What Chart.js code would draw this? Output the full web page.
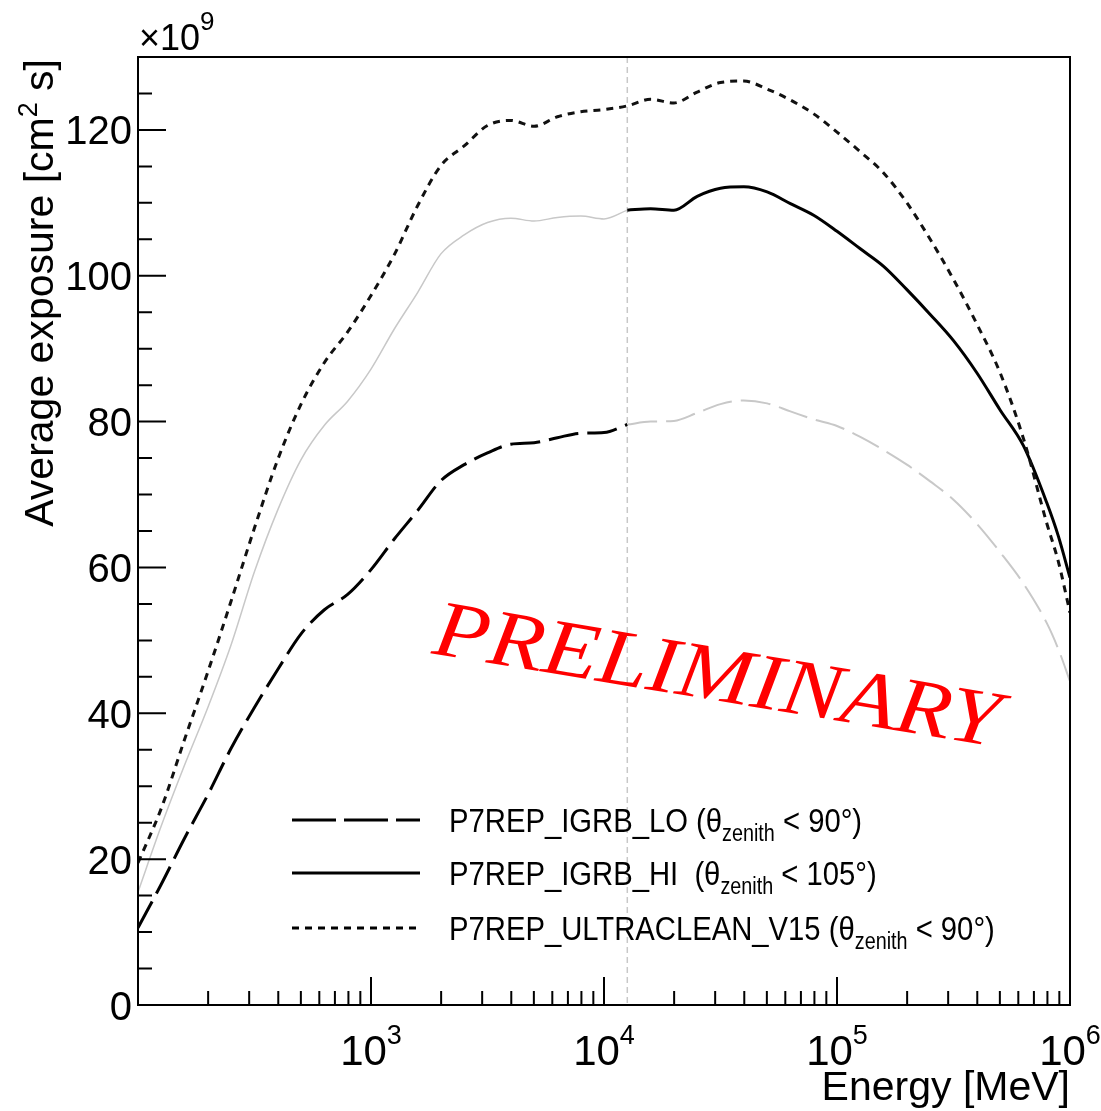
<!DOCTYPE html>
<html>
<head>
<meta charset="utf-8">
<script src="https://cdn.jsdelivr.net/npm/chart.js@4.4.0/dist/chart.umd.min.js"></script>
<style>
    html, body { margin: 0; padding: 0; background: #fff; }
    #wrap { width: 1101px; height: 1111px; position: relative; }
</style>
</head>
<body>
<div id="wrap"><canvas id="exposureChart"></canvas></div>
<script>
// energy grid (MeV), log spaced
const energyMeV = [100, 126, 158, 200, 251, 316, 398, 501, 631, 794,
    1000, 1259, 1585, 1995, 2512, 3162, 3981, 5012, 6310, 7943,
    10000, 12589, 15849, 19953, 25119, 31623, 39811, 50119, 63096, 79433,
    100000, 125893, 158489, 199526, 251189, 316228, 398107, 501187, 630957, 794328, 891251, 1000000];

// average exposure, units of 1e9 cm2 s
const ultracleanExposure = [19.5, 27.0, 36.3, 45.8, 55.4, 65.4, 74.8, 82.4, 88.1, 92.3,
    97.3, 102.9, 109.6, 115.1, 117.8, 120.6, 121.3, 120.5, 121.8, 122.5,
    122.8, 123.3, 124.2, 123.7, 125.2, 126.5, 126.7, 125.6, 124.1, 122.2,
    119.7, 117.0, 114.1, 110.0, 105.0, 99.5, 93.4, 86.7, 77.7, 66.1, 60.8, 53.8];

const igrbHiExposure = [15.5, 24.6, 32.8, 40.9, 49.4, 59.4, 67.9, 74.8, 79.5, 82.8,
    87.2, 92.7, 97.7, 103.0, 105.6, 107.3, 107.9, 107.5, 108.0, 108.2,
    107.8, 109.0, 109.2, 109.0, 110.9, 112.0, 112.2, 111.5, 109.9, 108.3,
    106.1, 103.7, 101.3, 98.1, 94.7, 91.1, 86.7, 81.6, 76.7, 68.9, 64.3, 58.6];

const igrbLoExposure = [10.6, 16.6, 22.8, 28.9, 35.2, 40.8, 46.0, 50.9, 54.2, 56.3,
    59.7, 63.9, 67.8, 71.9, 74.1, 75.7, 76.9, 77.1, 77.8, 78.4,
    78.5, 79.6, 80.0, 80.1, 81.2, 82.4, 82.9, 82.5, 81.4, 80.3,
    79.4, 77.9, 76.1, 74.1, 71.8, 69.3, 66.0, 62.1, 57.8, 52.4, 48.8, 44.4];

// energy where LO and HI hand over
const cutEnergyMeV = 12589;

const yMajorTicks = [0, 20, 40, 60, 80, 100, 120];
const yMinorStep = 5;
const xDecadeExponents = [2, 3, 4, 5, 6];
const xLabelExponents = ['3', '4', '5', '6'];

const legendRows = [
    { key: 'lo', before: 'P7REP_IGRB_LO (θ', after: ' < 90°)' },
    { key: 'hi', before: 'P7REP_IGRB_HI  (θ', after: ' < 105°)' },
    { key: 'uc', before: 'P7REP_ULTRACLEAN_V15 (θ', after: ' < 90°)' }
];

const FONT = "'Liberation Sans', Arial, Helvetica, sans-serif";
const GRAY = '#c8c8c8';
const LO_DASH = [30, 9];
const UC_DASH = [7, 6];

const cutIndex = energyMeV.indexOf(cutEnergyMeV);

function points(values, from, to) {
    const out = [];
    for (let i = from; i <= to; i++) out.push({ x: energyMeV[i], y: values[i] });
    return out;
}

function richWidth(ctx, parts) {
    let w = 0;
    parts.forEach(p => {
        ctx.font = p.size + 'px ' + FONT;
        w += ctx.measureText(p.t).width;
    });
    return w;
}

function drawRich(ctx, parts, x, y, align) {
    const w = richWidth(ctx, parts);
    let cx = x;
    if (align === 'center') cx = x - w / 2;
    if (align === 'right') cx = x - w;
    ctx.textAlign = 'left';
    ctx.textBaseline = 'alphabetic';
    parts.forEach(p => {
        ctx.font = p.size + 'px ' + FONT;
        ctx.fillText(p.t, cx, y + (p.dy || 0));
        cx += ctx.measureText(p.t).width;
    });
}

const rootStyle = {
    id: 'rootStyle',
    beforeDatasetsDraw(chart) {
        const { ctx, chartArea, scales } = chart;
        const x = scales.x.getPixelForValue(cutEnergyMeV);
        ctx.save();
        ctx.strokeStyle = GRAY;
        ctx.lineWidth = 1.5;
        ctx.setLineDash([6, 4]);
        ctx.beginPath();
        ctx.moveTo(x, chartArea.top);
        ctx.lineTo(x, chartArea.bottom);
        ctx.stroke();
        ctx.restore();
    },
    afterDatasetsDraw(chart) {
        const { ctx, chartArea: a, scales } = chart;
        const xs = scales.x, ys = scales.y;
        ctx.save();
        ctx.strokeStyle = '#000';
        ctx.fillStyle = '#000';
        ctx.lineWidth = 2;
        ctx.strokeRect(a.left, a.top, a.right - a.left, a.bottom - a.top);

        // y ticks
        ctx.beginPath();
        for (let v = 0; v <= ys.max; v += yMinorStep) {
            const py = ys.getPixelForValue(v);
            const len = yMajorTicks.includes(v) ? 28 : 14;
            ctx.moveTo(a.left, py);
            ctx.lineTo(a.left + len, py);
        }
        // x ticks
        xDecadeExponents.forEach(e => {
            for (let m = 1; m <= 9; m++) {
                const v = m * Math.pow(10, e);
                if (v < xs.min || v > xs.max) continue;
                const px = xs.getPixelForValue(v);
                const len = m === 1 ? 28 : 14;
                ctx.moveTo(px, a.bottom);
                ctx.lineTo(px, a.bottom - len);
            }
        });
        ctx.stroke();

        // y labels
        ctx.font = '40px ' + FONT;
        ctx.textAlign = 'right';
        ctx.textBaseline = 'alphabetic';
        yMajorTicks.forEach(v => {
            ctx.fillText(String(v), a.left - 6, ys.getPixelForValue(v) + 14.5);
        });

        // x labels
        xLabelExponents.forEach(e => {
            const px = xs.getPixelForValue(Math.pow(10, Number(e)));
            drawRich(ctx, [{ t: '10', size: 42 }, { t: e, size: 27, dy: -21 }], px, 1065, 'center');
        });

        // multiplier
        drawRich(ctx, [{ t: '×10', size: 36 }, { t: '9', size: 26, dy: -20 }], a.left + 1, 50, 'left');

        // axis titles
        drawRich(ctx, [{ t: 'Energy [MeV]', size: 41 }], a.right, 1100, 'right');
        ctx.save();
        ctx.translate(53, a.top + 2);
        ctx.rotate(-Math.PI / 2);
        drawRich(ctx, [{ t: 'Average exposure [cm', size: 41 }, { t: '2', size: 27, dy: -16 }, { t: ' s]', size: 41 }], 0, 0, 'right');
        ctx.restore();

        // legend
        const rowY = [820, 873, 928];
        legendRows.forEach((row, i) => {
            const y = rowY[i];
            ctx.save();
            ctx.strokeStyle = '#000';
            ctx.lineWidth = 3;
            if (row.key === 'lo') ctx.setLineDash([44, 8]);
            if (row.key === 'uc') ctx.setLineDash(UC_DASH);
            ctx.beginPath();
            ctx.moveTo(292, y);
            ctx.lineTo(420, y);
            ctx.stroke();
            ctx.restore();

            ctx.save();
            ctx.translate(449, y + 12);
            ctx.scale(0.86, 1);
            drawRich(ctx, [
                { t: row.before, size: 34 },
                { t: 'zenith', size: 23, dy: 9 },
                { t: row.after, size: 34 }
            ], 0, 0, 'left');
            ctx.restore();
        });

        // watermark
        ctx.save();
        ctx.fillStyle = '#ff0000';
        ctx.translate(713, 700);
        ctx.rotate(9.4 * Math.PI / 180);
        ctx.font = "italic 80px 'Liberation Serif', 'DejaVu Serif', serif";
        const w = ctx.measureText('PRELIMINARY').width;
        ctx.scale(572 / w, 1);
        ctx.textAlign = 'center';
        ctx.textBaseline = 'alphabetic';
        ctx.fillText('PRELIMINARY', 0, 0);
        ctx.restore();

        ctx.restore();
    }
};

const lineBase = { pointRadius: 0, fill: false, cubicInterpolationMode: 'monotone' };

new Chart(document.getElementById('exposureChart').getContext('2d'), {
    type: 'line',
    data: {
        datasets: [
            Object.assign({ label: 'P7REP_ULTRACLEAN_V15', data: points(ultracleanExposure, 0, energyMeV.length - 1),
                borderColor: '#111', borderWidth: 3, borderDash: UC_DASH }, lineBase),
            Object.assign({ label: 'P7REP_IGRB_HI', data: points(igrbHiExposure, cutIndex, energyMeV.length - 1),
                borderColor: '#000', borderWidth: 3 }, lineBase),
            Object.assign({ label: 'P7REP_IGRB_HI (low E)', data: points(igrbHiExposure, 0, cutIndex),
                borderColor: GRAY, borderWidth: 1.5 }, lineBase),
            Object.assign({ label: 'P7REP_IGRB_LO', data: points(igrbLoExposure, 0, cutIndex),
                borderColor: '#000', borderWidth: 3, borderDash: LO_DASH }, lineBase),
            Object.assign({ label: 'P7REP_IGRB_LO (high E)', data: points(igrbLoExposure, cutIndex, energyMeV.length - 1),
                borderColor: GRAY, borderWidth: 2, borderDash: LO_DASH }, lineBase)
        ]
    },
    options: {
        responsive: true,
        maintainAspectRatio: false,
        animation: false,
        layout: { padding: { top: 57, right: 31, left: 0, bottom: 0 } },
        plugins: { legend: { display: false }, tooltip: { enabled: false } },
        scales: {
            x: {
                type: 'logarithmic',
                min: 100,
                max: 1000000,
                grid: { display: false },
                border: { display: false },
                ticks: { display: false },
                afterFit: scale => { scale.height = 106; }
            },
            y: {
                min: 0,
                max: 130,
                grid: { display: false },
                border: { display: false },
                ticks: { display: false },
                afterFit: scale => { scale.width = 138; }
            }
        }
    },
    plugins: [rootStyle]
});
</script>
</body>
</html>
